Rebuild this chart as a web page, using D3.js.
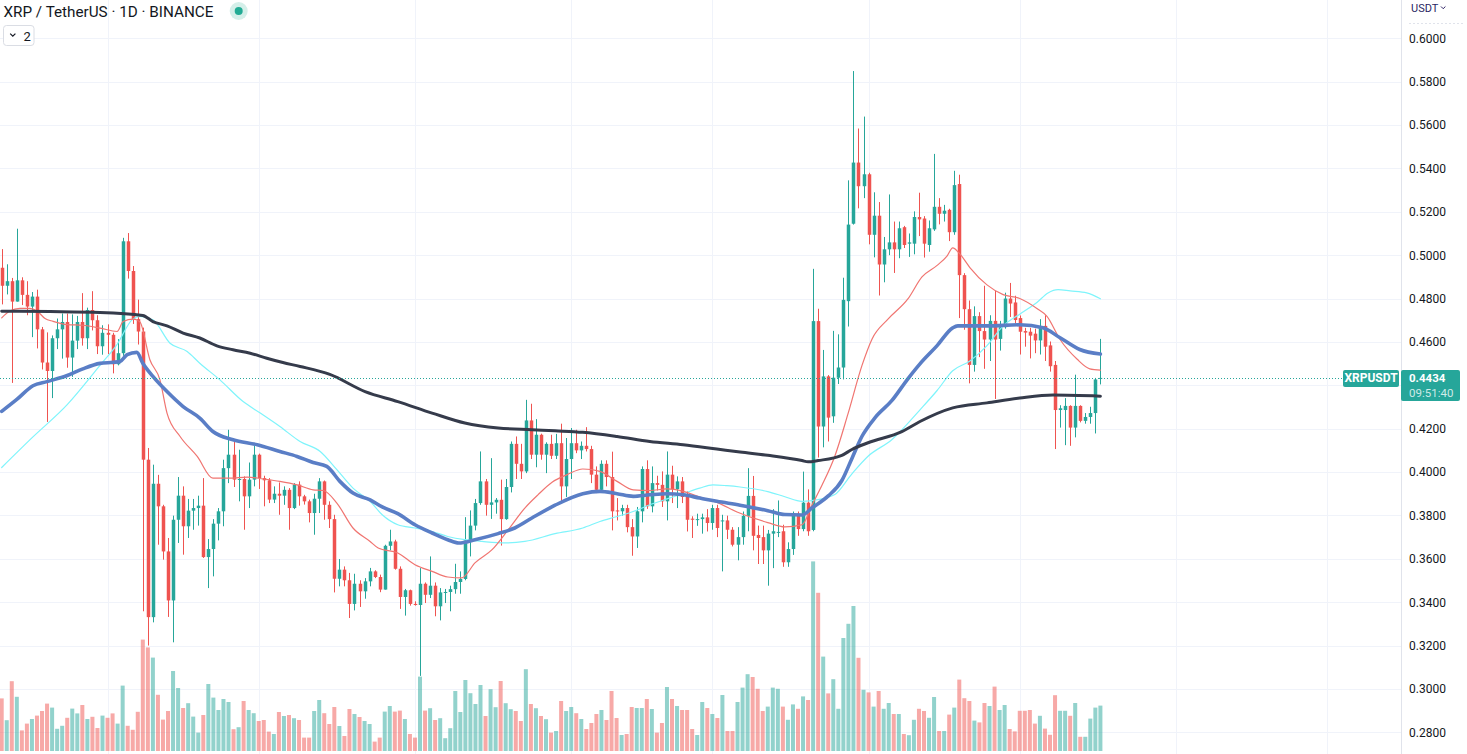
<!DOCTYPE html>
<html><head><meta charset="utf-8">
<script src="https://cdn.jsdelivr.net/npm/d3@7"></script>
<style>
html,body{margin:0;padding:0;background:#fff;overflow:hidden}
svg{display:block;font-family:Roboto,"Noto Sans",sans-serif}
</style></head><body>
<svg id="c" width="1467" height="754"></svg>
<script>
// ---------------- DATA ----------------
const title = "XRP / TetherUS · 1D · BINANCE";
const symbol = "XRPUSDT";
const currency = "USDT";
const lastPrice = 0.4434;
const countdown = "09:51:40";
const startDate = "2022-10-11";   // first daily candle (UTC)
const priceTicks = [0.28,0.30,0.32,0.34,0.36,0.38,0.40,0.42,0.44,0.46,0.48,0.50,0.52,0.54,0.56,0.58,0.60];

const open = [
.4942,.4859,.4880,.4786,.4884,.4817,.4763,.4809,.4658,.4505,
.4466,.4617,.4658,.4692,.4528,.4606,.4692,.4617,.4747,.4700,
.4580,.4642,.4633,.4497,.4548,.5064,.4927,.4705,.4648,.4057,
.3331,.3946,.3842,.3634,.3408,.3780,.3891,.3750,.3822,.3834,
.3845,.3608,.3645,.3762,.3819,.4018,.4080,.3965,.3968,.3888,
.3965,.4080,.3972,.3962,.3873,.3900,.3891,.3918,.3834,.3942,
.3888,.3865,.3811,.3877,.3957,.3849,.3783,.3508,.3550,.3501,
.3392,.3485,.3450,.3496,.3542,.3516,.3458,.3660,.3680,.3554,
.3424,.3455,.3392,.3387,.3485,.3434,.3476,.3381,.3445,.3447,
.3460,.3493,.3507,.3685,.3753,.3857,.3957,.3849,.3860,.3872,
.3783,.3931,.4130,.4038,.4003,.4238,.4080,.4172,.4080,.4130,
.4075,.4133,.3934,.4060,.4133,.4100,.4121,.4106,.3988,.3918,
.4038,.3977,.3823,.3819,.3834,.3746,.3703,.3819,.4014,.3842,
.3949,.3941,.3865,.3988,.3921,.3957,.3885,.3785,.3780,.3783,
.3791,.3765,.3834,.3773,.3777,.3734,.3665,.3700,.3798,.3890,
.3710,.3700,.3639,.3716,.3720,.3727,.3584,.3645,.3808,.3737,
.3859,.3733,.4696,.4210,.4441,.4257,.4435,.4482,.4788,.5145,
.5427,.5318,.5373,.5094,.5182,.4957,.5027,.5059,.5027,.5129,
.5053,.5053,.5176,.5169,.5047,.5119,.5223,.5191,.5209,.5106,
.5328,.4908,.4751,.4494,.4719,.4650,.4611,.4697,.4614,.4668,
.4800,.4782,.4710,.4650,.4647,.4638,.4607,.4674,.4584,.4494,
.4286,.4286,.4305,.4205,.4305,.4236,.4254,.4272,.4431];
const high = [
.5028,.4958,.4895,.5122,.4898,.4880,.4830,.4841,.4669,.4644,
.4630,.4708,.4731,.4731,.4727,.4720,.4825,.4758,.4834,.4723,
.4677,.4681,.4642,.4613,.5080,.5102,.4950,.4795,.4666,.4111,
.4034,.3987,.3849,.3696,.3799,.3977,.3934,.3876,.3876,.3891,
.3972,.3691,.3783,.3834,.4057,.4195,.4149,.4103,.3980,.4044,
.4121,.4085,.3983,.3972,.3934,.3952,.3934,.3926,.3949,.3957,
.3895,.3873,.3900,.3972,.3961,.3865,.3803,.3599,.3565,.3535,
.3531,.3501,.3511,.3558,.3547,.3527,.3665,.3734,.3688,.3565,
.3461,.3458,.3404,.3557,.3491,.3611,.3491,.3465,.3461,.3476,
.3577,.3542,.3792,.3823,.3876,.4095,.3968,.4064,.3880,.3965,
.3968,.4141,.4164,.4130,.4333,.4315,.4244,.4177,.4137,.4172,
.4176,.4223,.4157,.4203,.4195,.4141,.4207,.4121,.4026,.4054,
.4054,.4094,.3880,.3849,.3849,.3783,.3839,.4026,.4054,.4026,
.3983,.4003,.4095,.4029,.3980,.3977,.3911,.3796,.3808,.3808,
.3829,.3849,.3849,.3803,.3799,.3746,.3746,.3818,.4018,.3982,
.3753,.3753,.3733,.3829,.3869,.3757,.3676,.3818,.3818,.4002,
.3920,.4937,.4753,.4563,.4447,.4651,.4635,.4896,.5345,.5849,
.5584,.5639,.5380,.5290,.5245,.5084,.5280,.5155,.5155,.5135,
.5100,.5202,.5288,.5180,.5160,.5467,.5263,.5232,.5214,.5389,
.5371,.4917,.4791,.4764,.4737,.4859,.4723,.4836,.4697,.4827,
.4872,.4813,.4722,.4665,.4665,.4661,.4705,.4723,.4602,.4512,
.4308,.4341,.4308,.4449,.4308,.4272,.4301,.4434,.4614];
const low = [
.4773,.4819,.4411,.4786,.4770,.4723,.4622,.4570,.4473,.4231,
.4341,.4567,.4523,.4481,.4439,.4567,.4583,.4567,.4653,.4544,
.4541,.4544,.4455,.4492,.4536,.4892,.4683,.4588,.3358,.3200,
.3307,.3665,.3596,.3332,.3215,.3673,.3619,.3696,.3734,.3753,
.3604,.3465,.3519,.3685,.3750,.3949,.3931,.3865,.3734,.3834,
.3934,.3922,.3842,.3857,.3857,.3803,.3849,.3734,.3829,.3845,
.3850,.3768,.3711,.3811,.3780,.3742,.3445,.3473,.3473,.3327,
.3362,.3378,.3416,.3473,.3511,.3446,.3458,.3639,.3550,.3369,
.3338,.3384,.3384,.3060,.3396,.3419,.3335,.3316,.3396,.3358,
.3439,.3439,.3501,.3611,.3731,.3849,.3799,.3784,.3808,.3661,
.3780,.3906,.3968,.3968,.3995,.4060,.4022,.4057,.3995,.4060,
.4060,.3865,.3885,.3968,.4087,.4060,.4095,.3949,.3903,.3906,
.3934,.3731,.3777,.3799,.3722,.3614,.3650,.3768,.3830,.3814,
.3915,.3839,.3777,.3857,.3834,.3857,.3726,.3696,.3752,.3716,
.3726,.3734,.3700,.3542,.3691,.3657,.3593,.3665,.3727,.3639,
.3576,.3576,.3476,.3557,.3700,.3563,.3563,.3618,.3706,.3727,
.3706,.3727,.4067,.4114,.4141,.4227,.4406,.4427,.4671,.5141,
.5216,.5263,.5050,.4990,.4814,.4875,.5000,.4918,.4986,.5033,
.4992,.5004,.5088,.4989,.5016,.5112,.5142,.5155,.5065,.5094,
.4710,.4656,.4409,.4463,.4530,.4476,.4512,.4337,.4560,.4661,
.4715,.4686,.4542,.4578,.4524,.4548,.4542,.4512,.4463,.4106,
.4205,.4124,.4121,.4160,.4229,.4223,.4223,.4178,.4404];
const close = [
.4859,.4880,.4786,.4884,.4817,.4763,.4809,.4658,.4505,.4466,
.4617,.4658,.4692,.4528,.4606,.4692,.4617,.4747,.4700,.4580,
.4642,.4633,.4497,.4548,.5064,.4927,.4705,.4648,.4057,.3331,
.3946,.3842,.3634,.3408,.3780,.3891,.3750,.3822,.3834,.3845,
.3608,.3645,.3762,.3819,.4018,.4080,.3965,.3968,.3888,.3965,
.4080,.3972,.3962,.3873,.3900,.3891,.3918,.3834,.3942,.3888,
.3865,.3811,.3877,.3957,.3849,.3783,.3508,.3550,.3501,.3392,
.3485,.3450,.3496,.3542,.3516,.3458,.3660,.3680,.3554,.3424,
.3455,.3392,.3387,.3485,.3434,.3476,.3381,.3445,.3447,.3460,
.3493,.3507,.3685,.3753,.3857,.3957,.3849,.3860,.3872,.3783,
.3931,.4130,.4038,.4003,.4238,.4080,.4172,.4080,.4130,.4075,
.4133,.3934,.4060,.4133,.4100,.4121,.4106,.3988,.3918,.4038,
.3977,.3819,.3819,.3834,.3746,.3703,.3819,.4014,.3842,.3949,
.3941,.3865,.3988,.3921,.3957,.3885,.3780,.3780,.3783,.3791,
.3765,.3834,.3742,.3777,.3734,.3665,.3700,.3798,.3890,.3706,
.3696,.3639,.3716,.3727,.3724,.3584,.3645,.3808,.3737,.3859,
.3727,.4696,.4210,.4441,.4251,.4435,.4482,.4794,.5141,.5427,
.5318,.5373,.5094,.5182,.4957,.5027,.5059,.5027,.5124,.5047,
.5059,.5176,.5165,.5053,.5124,.5223,.5191,.5205,.5106,.5323,
.4908,.4751,.4494,.4719,.4650,.4611,.4697,.4611,.4668,.4800,
.4777,.4701,.4647,.4643,.4629,.4607,.4668,.4578,.4488,.4286,
.4294,.4305,.4205,.4305,.4236,.4254,.4272,.4427,.4434];
// volume, millions of XRP
const volume = [
263,154,349,271,103,137,160,177,200,237,
217,111,126,166,212,188,230,160,171,115,
177,166,188,137,327,126,106,196,557,518,
467,281,157,200,400,315,215,239,172,92,
180,335,267,205,260,245,109,119,250,205,
189,150,155,97,85,195,175,180,164,155,
67,67,200,255,189,135,220,125,75,210,
185,170,150,135,47,67,197,225,197,202,
160,85,67,372,202,214,155,164,64,114,
300,195,355,289,235,330,175,309,219,350,
239,209,200,150,409,235,214,175,159,92,
100,250,200,220,189,160,110,140,185,205,
155,300,165,80,85,220,215,215,260,210,
92,140,320,260,225,205,205,110,80,245,
215,185,165,280,100,100,245,317,384,370,
311,200,222,317,311,222,156,233,211,273,
255,948,791,472,288,359,211,565,636,725,
466,306,293,222,300,211,240,185,185,85,
79,156,211,200,166,270,100,100,182,217,
357,264,250,152,143,240,225,322,205,230,
110,98,201,201,205,137,176,112,81,279,
201,201,176,240,71,71,162,217,227];

// moving averages: candle index -> value
const maSlowIdx = [0,9.6,19.5,28,30,32.8,36,39.3,42.7,45.9,49.3,52.6,55.8,59.2,65.1,72.1,78.6,85.4,91.9,98.5,105.2,109.8,115.3,122.1,128.6,135.2,141.9,146.5,152,158.8,160,162,166.7,168.7,171.9,178.6,182.2,188.7,195.5,202,208.6,218];
const maSlowVal = [.4742,.4740,.4736,.4722,.4694,.4674,.4641,.4618,.4582,.4564,.4548,.4525,.4505,.4487,.4450,.4371,.4325,.4272,.4226,.4203,.4195,.4190,.4183,.4164,.4141,.4126,.4106,.4092,.4077,.4053,.4047,.4053,.4077,.4104,.4135,.4186,.4233,.4296,.4319,.4341,.4355,.4350];
const maMidIdx = [0,3,6.2,9,13,16.1,19.5,22.1,23.5,24.9,26.8,28,30,32.8,36,39.3,41.9,45.9,50.7,55.2,58.6,61.8,64.5,67.1,69.7,73.1,75.5,78.6,82,85.4,88.5,90.7,93.9,98.5,101.8,105.2,109.8,115.3,118.7,122.1,125.3,128.6,132,135.2,138.5,141.9,146.5,152,155.4,158.8,160.8,164,166.7,168.7,170.7,173.3,176.6,179.8,182.2,185.6,188.7,189.7,195.5,202,206.6,210,213.9,218];
const maMidVal = [.4280,.4335,.4398,.4417,.4445,.4476,.4501,.4506,.4510,.4541,.4552,.4502,.4441,.4371,.4302,.4249,.4187,.4149,.4126,.4095,.4072,.4044,.4026,.3957,.3903,.3872,.3839,.3808,.3757,.3719,.3688,.3673,.3688,.3716,.3742,.3788,.3847,.3900,.3911,.3900,.3888,.3895,.3900,.3895,.3880,.3865,.3847,.3822,.3804,.3802,.3835,.3890,.3961,.4063,.4165,.4251,.4329,.4430,.4499,.4583,.4665,.4674,.4674,.4679,.4665,.4619,.4565,.4544];
const maLongIdx = [0,6.2,13,19.5,22.9,25.9,27.4,30,33.4,36.8,39.3,43.3,47.9,51.3,55.2,59.2,63.2,66.5,69.7,73.1,75.5,78.6,82,85.4,88.5,91.9,95.3,99.9,103.8,109.8,115.3,118.7,122.1,125.3,128.6,132,135.2,138.5,141.1,143.9,146.5,152,155.4,158.8,162,165.3,168.7,171.9,176.6,182.2,185.6,188.7,192.1,195.5,198.7,202,205.4,207.6,209.6,212,215.3,218];
const maLongVal = [.4021,.4162,.4311,.4492,.4589,.4703,.4718,.4702,.4594,.4556,.4502,.4425,.4325,.4272,.4210,.4141,.4095,.4011,.3926,.3865,.3803,.3757,.3742,.3726,.3703,.3688,.3680,.3673,.3680,.3716,.3742,.3772,.3795,.3818,.3849,.3876,.3900,.3926,.3941,.3937,.3931,.3910,.3886,.3865,.3873,.3896,.3992,.4073,.4149,.4287,.4376,.4467,.4512,.4583,.4674,.4728,.4782,.4826,.4841,.4835,.4826,.4799];
const maFastIdx = [0,1.6,3.6,5.6,7,8.6,10.2,13,16.1,19.5,22.9,24.1,26.1,27.4,29.4,31.4,32.8,35.4,38.8,41.9,45.3,48.7,51.9,55.2,58.6,61.8,63.8,66.5,69.7,73.1,74.7,78.6,82,85.4,88.5,91.3,93.9,97.3,100.5,103.8,106.4,109.2,112.2,115.3,118.7,122.1,125.3,128.6,132,135.2,138.5,141.9,145.9,152,155.4,158.8,160.8,162.8,165.3,167.9,170.7,172.7,175.9,179.8,182.6,185.6,187.6,188.7,190.1,192.1,195.5,198.7,202,205.4,207.4,210,213.4,215.9,218];
const maFastVal = [.4711,.4743,.4755,.4755,.4743,.4708,.4695,.4680,.4677,.4664,.4648,.4694,.4705,.4693,.4518,.4425,.4272,.4164,.4072,.3972,.3972,.3977,.3968,.3957,.3941,.3918,.3915,.3857,.3742,.3680,.3650,.3627,.3573,.3542,.3516,.3512,.3581,.3642,.3734,.3834,.3895,.3953,.3988,.4014,.4003,.3957,.3918,.3915,.3922,.3911,.3885,.3860,.3816,.3767,.3747,.3757,.3849,.3941,.4073,.4267,.4492,.4614,.4706,.4798,.4900,.4953,.4997,.5034,.5006,.4943,.4863,.4818,.4800,.4754,.4718,.4611,.4520,.4476,.4470];

// ---------------- DRAW ----------------
const W = 1467, H = 754, paneRight = 1401, volBase = 751;
const UP = "#26a69a", DOWN = "#ef5350";
const svg = d3.select("#c");
const n = close.length;
const x = d3.scaleLinear().domain([0, n - 1]).range([1.7, 1100.4]);
const y = d3.scaleLinear().domain([0.28, 0.60]).range([732.3, 38.3]);
const yv = d3.scaleLinear().domain([0, 1000]).range([volBase, volBase - 200]);

svg.append("defs").append("clipPath").attr("id","pc")
  .append("rect").attr("x",0).attr("y",0).attr("width",paneRight).attr("height",H);
const pane = svg.append("g").attr("clip-path","url(#pc)");

// grid
pane.append("g").selectAll("line").data(priceTicks).join("line")
  .attr("x1",0).attr("x2",paneRight)
  .attr("y1",d=>Math.round(y(d))+0.5).attr("y2",d=>Math.round(y(d))+0.5)
  .attr("stroke","#f0f3fa").attr("stroke-width",1);
const start = new Date(startDate + "T00:00:00Z");
const months = d3.utcMonth.range(d3.utcMonth.ceil(start), d3.utcMonth.offset(start, 11))
  .map(m => d3.utcDay.count(start, m)).filter(i => x(i) < paneRight);
pane.append("g").selectAll("line").data(months).join("line")
  .attr("x1",d=>Math.round(x(d))+0.5).attr("x2",d=>Math.round(x(d))+0.5)
  .attr("y1",0).attr("y2",H)
  .attr("stroke","#f0f3fa").attr("stroke-width",1);

const idx = d3.range(n);
// volume
pane.append("g").selectAll("rect").data(idx).join("rect")
  .attr("x",i=>x(i)-2).attr("width",4)
  .attr("y",i=>yv(volume[i])).attr("height",i=>volBase-yv(volume[i]))
  .attr("fill",i=>close[i]>=open[i] ? "rgba(38,166,154,0.5)" : "rgba(239,83,80,0.5)");

// candles
const cg = pane.append("g");
cg.selectAll("line").data(idx).join("line")
  .attr("x1",i=>Math.round(x(i))+0.5).attr("x2",i=>Math.round(x(i))+0.5)
  .attr("y1",i=>y(high[i])).attr("y2",i=>y(low[i]))
  .attr("stroke",i=>close[i]>=open[i]?UP:DOWN).attr("stroke-width",1);
cg.selectAll("rect").data(idx).join("rect")
  .attr("x",i=>Math.round(x(i))+0.5-1.75).attr("width",3.5)
  .attr("y",i=>y(Math.max(open[i],close[i])))
  .attr("height",i=>Math.max(1, Math.abs(y(open[i])-y(close[i]))))
  .attr("fill",i=>close[i]>=open[i]?UP:DOWN);

// moving averages
const line = d3.line().x(d=>x(d[0])).y(d=>y(d[1])).curve(d3.curveMonotoneX);
const mas = [
  {ix:maLongIdx, v:maLongVal, c:"#7ff4fb", w:1.2},
  {ix:maFastIdx, v:maFastVal, c:"#f07571", w:1.2},
  {ix:maMidIdx,  v:maMidVal,  c:"#5a7ec6", w:3.6},
  {ix:maSlowIdx, v:maSlowVal, c:"#353b4b", w:3.0}
];
mas.forEach(m => {
  pane.append("path").datum(m.ix.map((k,j)=>[k, m.v[j]]))
    .attr("d", line).attr("fill","none").attr("stroke", m.c)
    .attr("stroke-width", m.w).attr("stroke-linejoin","round").attr("stroke-linecap","round");
});

// last price dotted line
const yl = Math.round(y(lastPrice)) + 0.5;
svg.append("line").attr("x1",0).attr("x2",1343).attr("y1",yl).attr("y2",yl)
  .attr("stroke",UP).attr("stroke-width",1).attr("stroke-dasharray","1,2");

// price axis (labels hidden behind the last-price box are not drawn)
svg.append("line").attr("x1",paneRight+0.5).attr("x2",paneRight+0.5).attr("y1",0).attr("y2",H)
  .attr("stroke","#e0e3eb");
const lb = y(lastPrice) - 8;
const axisTicks = priceTicks.filter(t => y(t) < lb - 7 || y(t) > lb + 38);
const ax = svg.append("g").attr("transform",`translate(${paneRight},0)`)
  .call(d3.axisRight(y).tickValues(axisTicks).tickFormat(d3.format(".4f")).tickSize(0).tickPadding(8));
ax.select(".domain").remove();
ax.selectAll("text").attr("fill","#131722").style("font-size","12px").style("font-family","Roboto, sans-serif");

// currency label
svg.append("text").attr("x",1411).attr("y",12).text(currency)
  .attr("fill","#2b1f63").style("font-size","11px");
svg.append("path").attr("d","M1441,6.5 L1443.2,8.7 L1445.4,6.5").attr("fill","none")
  .attr("stroke","#2b1f63").attr("stroke-width",1);
svg.append("line").attr("x1",1409).attr("x2",1463).attr("y1",23.5).attr("y2",23.5)
  .attr("stroke","#e0e3eb").attr("stroke-dasharray","2,2");

// last price labels
svg.append("rect").attr("x",1343).attr("y",lb).attr("width",56).attr("height",17).attr("rx",2).attr("fill",UP);
svg.append("text").attr("x",1371).attr("y",lb+12.5).attr("text-anchor","middle").text(symbol)
  .attr("fill","#fff").style("font-size","12px").style("font-weight","bold");
svg.append("rect").attr("x",1401).attr("y",lb).attr("width",59).attr("height",31).attr("rx",2).attr("fill",UP);
svg.append("text").attr("x",1409).attr("y",lb+12.2).text(d3.format(".4f")(lastPrice))
  .attr("fill","#fff").style("font-size","11.5px").style("font-weight","bold");
svg.append("text").attr("x",1409).attr("y",lb+27.2).text(countdown)
  .attr("fill","rgba(255,255,255,0.78)").style("font-size","11.5px");

// title / legend
const t = svg.append("text").attr("x",3.5).attr("y",16.5).text(title)
  .attr("fill","#131722").style("font-size","14px");
const tw = t.node().getComputedTextLength();
t.style("font-size", (14 * 210 / tw).toFixed(2) + "px");
svg.append("circle").attr("cx",238.7).attr("cy",11).attr("r",9).attr("fill","#d4efe9");
svg.append("circle").attr("cx",238.7).attr("cy",11).attr("r",4).attr("fill","#22ab94");
svg.append("rect").attr("x",3.5).attr("y",25.5).attr("width",30.5).attr("height",20).attr("rx",3)
  .attr("fill","#fff").attr("stroke","#dadde4");
svg.append("path").attr("d","M10.2,33.6 L12.8,36.2 L15.4,33.6").attr("fill","none")
  .attr("stroke","#131722").attr("stroke-width",1.2);
svg.append("text").attr("x",23.5).attr("y",40.5).text("2").attr("fill","#131722").style("font-size","13px");
</script>
</body></html>
